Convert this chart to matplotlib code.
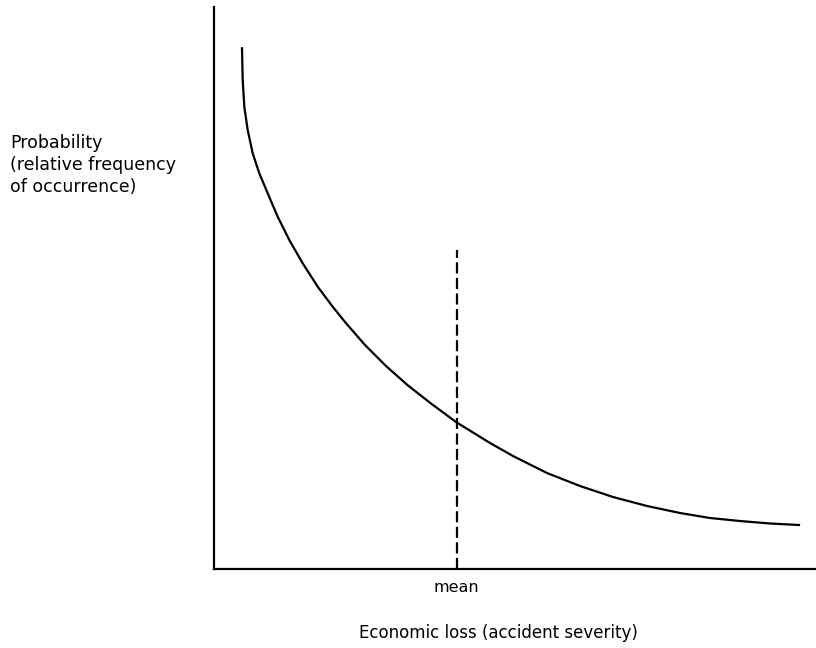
import matplotlib.pyplot as plt

# curve (arbitrary units: loss vs. relative frequency)
loss = [28, 28.7, 30.3, 33.7, 38.7, 45.3, 53.7, 63.7, 75.3, 88.7, 103.7, 118.7,
        131, 151, 172, 194, 217, 242, 276, 299, 333, 366, 399, 433, 466, 496,
        526, 556, 585]
prob = [520.7, 489, 462.3, 439, 415.7, 395.7, 375.7, 352.3, 329, 305.7, 282.3,
        262.3, 247, 224, 203, 183.5, 165.5, 147, 126, 113, 96, 83, 72, 63, 56,
        51, 48, 45.5, 44]
mean_loss = 243
mean_top = 319

W, H = 816, 648
fig = plt.figure(figsize=(W / 100, H / 100), dpi=100)
ax = fig.add_axes([214 / W, 1 - 569 / H, (W - 214) / W, (569 - 7) / H])

ax.plot(loss, prob, color="black", lw=1.6, solid_joinstyle="round")
ax.plot([mean_loss, mean_loss], [0, mean_top], color="black", lw=1.6,
        linestyle=(0, (5, 2)))

ax.set_xlim(0, W - 214)
ax.set_ylim(0, 562)
ax.spines["top"].set_visible(False)
ax.spines["right"].set_visible(False)
ax.spines["left"].set_linewidth(1.6)
ax.spines["bottom"].set_linewidth(1.6)
ax.set_xticks([])
ax.set_yticks([])

fig.text(10 / W, 1 - 134 / H, "Probability\n(relative frequency\nof occurrence)",
         ha="left", va="top", fontsize=12.5, linespacing=1.3)
fig.text(456 / W, 1 - 587 / H, "mean", ha="center", va="center", fontsize=11.5)
fig.text(498 / W, 1 - 633 / H, "Economic loss (accident severity)",
         ha="center", va="center", fontsize=12)

fig.savefig("out.png", dpi=100)
